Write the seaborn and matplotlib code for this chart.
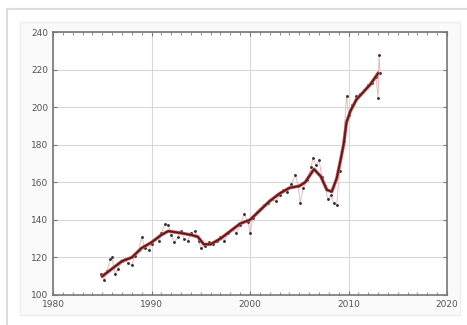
import numpy as np
import pandas as pd
import seaborn as sns
import matplotlib.pyplot as plt
from matplotlib.patches import Rectangle
from matplotlib.ticker import MultipleLocator

# courbe lissee
smooth_year = [1985.0, 1986.0, 1987.0, 1988.0, 1989.0, 1990.0, 1991.0, 1991.7, 1993.0,
               1994.0, 1994.7, 1995.3, 1996.0, 1997.0, 1998.0, 1999.0, 2000.0, 2001.0,
               2002.0, 2003.0, 2004.0, 2005.0, 2005.6, 2006.5, 2007.2, 2007.8, 2008.3,
               2008.8, 2009.2, 2009.5, 2009.8, 2010.2, 2010.8, 2011.5, 2012.2, 2013.0]
smooth_val = [110, 114, 118, 120, 125, 128, 132, 134, 133,
              132, 131, 127, 127, 130, 134, 138, 140, 145,
              150, 154, 157, 158, 160, 167, 163, 156, 155,
              162, 172, 180, 192, 198, 204, 208, 212, 218]

# donnees brutes
raw_year = [1984.9, 1985.2, 1985.5, 1985.8, 1986.0, 1986.3, 1986.6, 1987.0, 1987.3, 1987.6,
            1988.0, 1988.3, 1988.7, 1989.0, 1989.3, 1989.7, 1990.0, 1990.4, 1990.8, 1991.0,
            1991.4, 1991.7, 1992.0, 1992.3, 1992.7, 1993.0, 1993.3, 1993.7, 1994.0, 1994.4,
            1994.8, 1995.0, 1995.4, 1995.8, 1996.2, 1996.6, 1997.0, 1997.4, 1997.8, 1998.2,
            1998.6, 1999.0, 1999.4, 1999.8, 2000.0, 2000.3, 2000.7, 2001.0, 2001.4, 2001.8,
            2002.2, 2002.6, 2003.0, 2003.4, 2003.8, 2004.2, 2004.6, 2004.9, 2005.1, 2005.4,
            2005.8, 2006.2, 2006.4, 2006.7, 2007.0, 2007.3, 2007.6, 2007.9, 2008.2, 2008.5,
            2008.8, 2009.1, 2009.5, 2009.8, 2010.0, 2010.4, 2010.8, 2011.2, 2011.6, 2012.0,
            2012.4, 2012.8, 2013.0, 2013.1, 2013.2]
raw_val = [111, 108, 113, 119, 120, 111, 114, 118, 119, 117,
           116, 121, 124, 131, 125, 124, 127, 130, 129, 133,
           138, 137, 132, 128, 131, 134, 130, 129, 133, 134,
           129, 125, 126, 128, 127, 129, 131, 129, 133, 135,
           133, 137, 143, 139, 133, 141, 144, 146, 148, 149,
           151, 150, 153, 156, 155, 159, 164, 158, 149, 157,
           161, 168, 173, 169, 172, 163, 158, 151, 153, 149,
           148, 166, 182, 206, 196, 201, 206, 207, 209, 212,
           213, 216, 205, 228, 218]

x_ticks = [1980, 1990, 2000, 2010, 2020]
y_ticks = [100, 120, 140, 160, 180, 200, 220, 240]

raw = pd.DataFrame({"year": raw_year, "val": raw_val})
smooth = pd.DataFrame({"year": smooth_year, "val": smooth_val})

fig = plt.figure(figsize=(4.67, 3.25), dpi=100)
fig.patch.set_facecolor("white")
# cadre exterieur + fond gris clair (derriere les axes)
fig.patches.append(Rectangle((7 / 467, -0.1), 1.2, 1.1 - 9 / 325, transform=fig.transFigure,
                             fill=False, edgecolor="#dddddd", linewidth=1.5, zorder=-10))
fig.patches.append(Rectangle((20 / 467, 10 / 325), 440 / 467, 293 / 325, transform=fig.transFigure,
                             facecolor="#fafafa", edgecolor="#eeeeee", linewidth=1, zorder=-9))

ax = fig.add_axes([53 / 467, 30 / 325, 394 / 467, 263 / 325])
ax.set_facecolor("white")

sns.lineplot(data=raw, x="year", y="val", ax=ax, color="#eab0b0", linewidth=0.6,
             marker="o", markersize=1.3, markerfacecolor="#333333", markeredgecolor="#333333")
sns.lineplot(data=smooth, x="year", y="val", ax=ax, color="#c85a5a", linewidth=2.4)
sns.lineplot(data=smooth, x="year", y="val", ax=ax, color="#5c1a1a", linewidth=1.3)

ax.set_xlim(1980, 2020)
ax.set_ylim(100, 240)
ax.set_xticks(x_ticks)
ax.set_yticks(y_ticks)
ax.xaxis.set_minor_locator(MultipleLocator(1))
ax.set_xlabel("")
ax.set_ylabel("")
ax.set_axisbelow(True)
ax.grid(True, which="major", color="#d8d8d8", linewidth=0.8)
ax.tick_params(which="both", direction="in", top=True, right=True, colors="#777777",
               labelcolor="#555555", labelsize=6.5)
ax.tick_params(which="major", length=3)
ax.tick_params(which="minor", length=2)
for s in ax.spines.values():
    s.set_color("#777777")
    s.set_linewidth(1.2)

fig.savefig("out.png", dpi=100)
